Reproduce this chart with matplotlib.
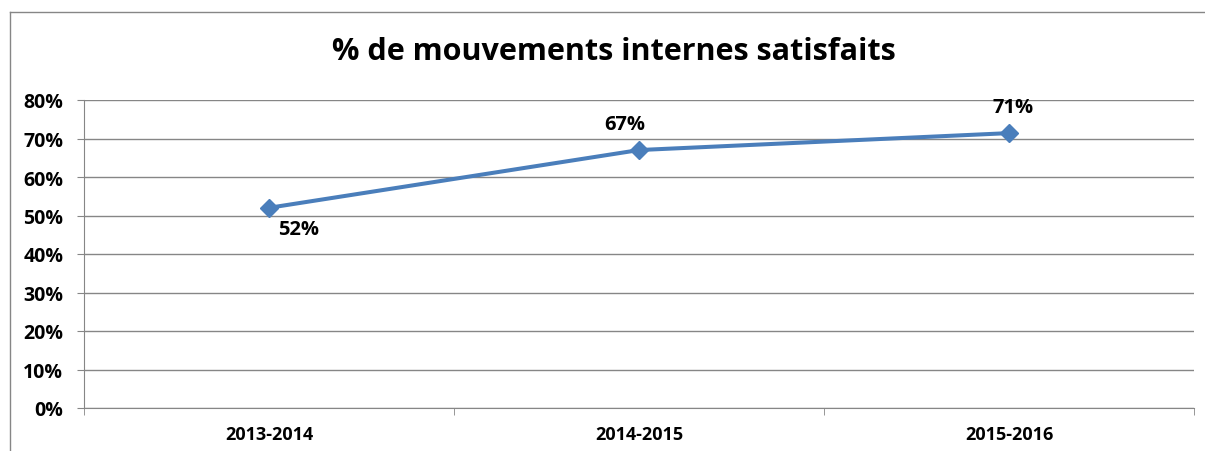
import matplotlib
matplotlib.use("Agg")
import matplotlib.pyplot as plt
from matplotlib.lines import Line2D
from matplotlib.ticker import PercentFormatter, MultipleLocator, FixedLocator

categories = ["2013-2014", "2014-2015", "2015-2016"]
values = [52.0, 67.0, 71.4]
labels = ["52%", "67%", "71%"]
title = "% de mouvements internes satisfaits"

label_offsets = [(21, -15), (-10, 19), (3, 19)]  # points

plt.rcParams['font.family'] = ['Open Sans', 'DejaVu Sans']
W, H = 1205, 452
fig = plt.figure(figsize=(W / 100, H / 100), dpi=100)
ax = fig.add_axes([84 / W, 1 - 409 / H, (1194 - 84) / W, (409 - 101) / H])

x = list(range(len(categories)))
ax.plot(x, values, color="#4A7EBB", lw=2.9, marker="D", markersize=9,
        markerfacecolor="#4A7EBB", markeredgecolor="#4A7EBB", zorder=3)
for xi, v, lab, off in zip(x, values, labels, label_offsets):
    ax.annotate(lab, (xi, v), xytext=off, textcoords="offset points",
                ha="center", va="center", fontsize=14.5, fontweight="bold")

ax.set_xlim(-0.5, len(categories) - 0.5)
ax.set_ylim(0, 80)
ax.yaxis.set_major_locator(MultipleLocator(10))
ax.yaxis.set_major_formatter(PercentFormatter(decimals=0))
ax.set_xticks(x)
ax.set_xticklabels(categories, fontsize=13, fontweight="bold")
ax.xaxis.set_minor_locator(FixedLocator([-0.5 + i for i in range(len(categories) + 1)]))
ax.tick_params(axis="x", which="major", length=0, pad=12)
ax.tick_params(axis="x", which="minor", length=5, color="#868686", direction="out")
ax.tick_params(axis="y", length=5, color="#868686", pad=10, labelsize=14)
for t in ax.get_yticklabels():
    t.set_fontweight("bold")
ax.grid(axis="y", color="#868686", lw=1)
ax.set_axisbelow(True)
for s in ["top", "right"]:
    ax.spines[s].set_visible(False)
ax.spines["left"].set_color("#868686")
ax.spines["bottom"].set_color("#868686")

fig.text(614 / W, 1 - 52 / H, title, ha="center", va="center",
         fontsize=22, fontweight="bold")

# chart frame (partially cropped in the reference)
fig.add_artist(Line2D([10 / W, 10 / W], [0, 1 - 13 / H], transform=fig.transFigure,
                      color="#868686", lw=1))
fig.add_artist(Line2D([10 / W, 1], [1 - 13 / H, 1 - 13 / H], transform=fig.transFigure,
                      color="#868686", lw=1))

fig.savefig("out.png", dpi=100)
